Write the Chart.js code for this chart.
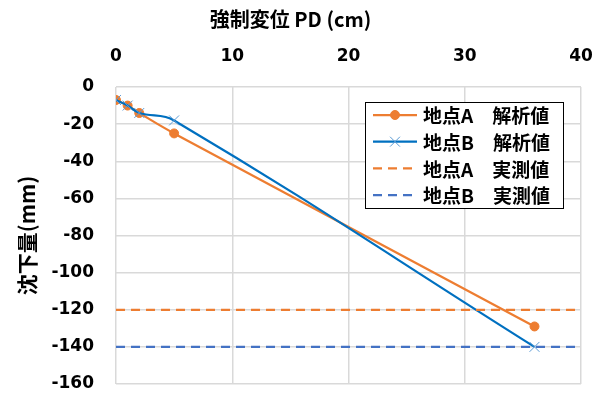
<!DOCTYPE html>
<html>
<head>
<meta charset="utf-8">
<script src="https://cdn.jsdelivr.net/npm/chart.js@4/dist/chart.umd.min.js"></script>
<style>
  html, body { margin: 0; padding: 0; background: #fff; }
  #wrap { width: 603px; height: 398px; }
</style>
</head>
<body>
<div id="wrap"><canvas id="c" width="603" height="398"></canvas></div>
<script>
// Forced displacement PD (cm) at each analysis step
const pdA = [0, 1, 2, 5, 36];
const pdB = [0, 1, 2, 5, 36];
// Computed settlement (mm)
const settleA = [-7, -10, -14, -25, -129];
const settleB = [-7, -10, -14, -18, -140];
// Measured settlement (mm), drawn across the full PD range
const measuredA = -120;
const measuredB = -140;
const pdRange = [0, 40];

const seriesLabels = ['地点A　解析値', '地点B　解析値', '地点A　実測値', '地点B　実測値'];
const xTicks = [0, 10, 20, 30, 40];
const yTicks = [0, -20, -40, -60, -80, -100, -120, -140, -160];

const ORANGE = '#ED7D31';
const BLUE = '#0070C0';
const BLUE_MARK = '#5B9BD5';
const BLUE_DASH = '#4472C4';
const GRID = '#d9d9d9';
const TICK_FONT = { family: "'DejaVu Sans', sans-serif", size: 17, weight: 'bold' };
const CJK = "'Noto Sans CJK JP', 'Noto Sans', sans-serif";

const toPoints = (xs, ys) => xs.map((x, i) => ({ x: x, y: ys[i] }));
const flatLine = (v) => pdRange.map(x => ({ x: x, y: v }));

// Keep edge tick labels from shrinking the plot area
const noEdgePadding = (s) => {
  s.paddingTop = 0; s.paddingBottom = 0; s.paddingLeft = 0; s.paddingRight = 0;
};

// Boxed legend placed inside the plot area
const boxedLegend = {
  id: 'boxedLegend',
  afterDraw(chart) {
    const ctx = chart.ctx;
    const left = 365, top = 102, right = 564, bottom = 209;
    const rowH = 26.7, firstRow = 115;
    ctx.save();
    ctx.fillStyle = '#fff';
    ctx.fillRect(left, top, right - left, bottom - top);
    ctx.strokeStyle = '#000';
    ctx.lineWidth = 1;
    ctx.strokeRect(left + 0.5, top + 0.5, right - left - 1, bottom - top - 1);
    chart.data.datasets.forEach((ds, i) => {
      const y = firstRow + i * rowH;
      ctx.save();
      ctx.strokeStyle = ds.borderColor;
      ctx.lineWidth = ds.borderWidth;
      ctx.setLineDash(ds.borderDash || []);
      ctx.beginPath();
      ctx.moveTo(373, y);
      ctx.lineTo(417, y);
      ctx.stroke();
      ctx.restore();
      if (ds.pointRadius > 0) {
        ctx.save();
        ctx.fillStyle = ds.pointBackgroundColor;
        ctx.strokeStyle = ds.pointBorderColor;
        Chart.helpers.drawPoint(ctx, {
          pointStyle: ds.pointStyle, radius: ds.pointRadius,
          rotation: 0, borderWidth: ds.pointBorderWidth
        }, 395, y);
        ctx.restore();
      }
      ctx.fillStyle = '#000';
      ctx.font = 'bold 19px ' + CJK;
      ctx.textBaseline = 'middle';
      ctx.textAlign = 'left';
      ctx.fillText(ds.label, 423, y + 1);
    });
    ctx.restore();
  }
};

new Chart(document.getElementById('c'), {
  type: 'line',
  data: {
    datasets: [
      {
        label: seriesLabels[0], data: toPoints(pdA, settleA), order: 4,
        borderColor: ORANGE, borderWidth: 2.25, tension: 0.4,
        pointStyle: 'circle', pointRadius: 4.5, pointBorderWidth: 1,
        pointBackgroundColor: ORANGE, pointBorderColor: ORANGE
      },
      {
        label: seriesLabels[1], data: toPoints(pdB, settleB), order: 3,
        borderColor: BLUE, borderWidth: 2.25, tension: 0.4,
        pointStyle: 'crossRot', pointRadius: 7, pointBorderWidth: 1,
        pointBackgroundColor: BLUE_MARK, pointBorderColor: BLUE_MARK
      },
      {
        label: seriesLabels[2], data: flatLine(measuredA), order: 2,
        borderColor: ORANGE, borderWidth: 2.25, borderDash: [9, 6],
        pointRadius: 0
      },
      {
        label: seriesLabels[3], data: flatLine(measuredB), order: 1,
        borderColor: BLUE_DASH, borderWidth: 2.25, borderDash: [9, 6],
        pointRadius: 0
      }
    ]
  },
  options: {
    responsive: false,
    animation: false,
    layout: { padding: { left: 0, right: 22, top: 0, bottom: 14 } },
    plugins: {
      legend: { display: false },
      tooltip: { enabled: false },
      title: {
        display: true,
        text: '強制変位 PD (cm)',
        color: '#000',
        font: { family: CJK, size: 20, weight: 'bold' },
        padding: { top: 7, bottom: 0 }
      }
    },
    scales: {
      x: {
        type: 'linear',
        position: 'top',
        min: pdRange[0], max: pdRange[1],
        afterBuildTicks: (s) => { s.ticks = xTicks.map(v => ({ value: v })); },
        afterFit: (s) => { s.height = 56; noEdgePadding(s); },
        ticks: { color: '#000', font: TICK_FONT, padding: 20, maxRotation: 0 },
        grid: { color: GRID, lineWidth: 1.5, drawTicks: false },
        border: { display: false }
      },
      y: {
        type: 'linear',
        min: -160, max: 0,
        afterBuildTicks: (s) => { s.ticks = yTicks.map(v => ({ value: v })); },
        afterFit: (s) => { s.width = 116; noEdgePadding(s); },
        ticks: { color: '#000', font: TICK_FONT, padding: 22 },
        grid: { color: GRID, lineWidth: 1.5, drawTicks: false },
        border: { display: false },
        title: {
          display: true,
          text: '沈下量(mm)',
          color: '#000',
          font: { family: CJK, size: 21, weight: 'bold' },
          padding: { top: 14, bottom: 0 }
        }
      }
    }
  },
  plugins: [boxedLegend]
});
</script>
</body>
</html>
